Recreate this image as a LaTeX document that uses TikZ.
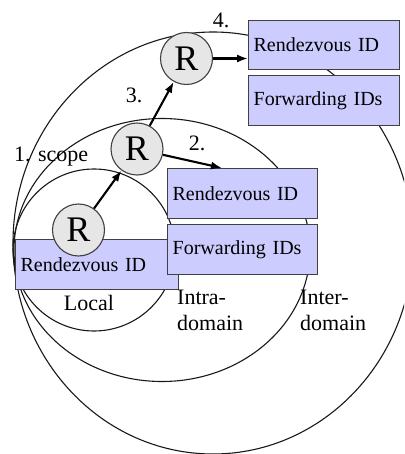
\documentclass[tikz,border=0pt]{standalone}
\usepackage{fontspec}
\setmainfont{Liberation Serif}
\newfontfamily\figserif{Liberation Serif}
\usetikzlibrary{arrows.meta}
\definecolor{boxfill}{RGB}{204,204,255}
\definecolor{rfill}{RGB}{230,230,230}
\definecolor{edgegrey}{RGB}{64,64,64}
\begin{document}
\begin{tikzpicture}[x=1pt,y=-1pt,
  ring/.style={draw=black!90, line width=1.1pt},
  idbox/.style={draw=edgegrey, fill=boxfill, line width=1.3pt, rectangle, anchor=north west,
    inner xsep=5pt, inner ysep=0pt, align=left, font=\figserif\fontsize{20}{22}\selectfont},
  router/.style={circle, draw=edgegrey, fill=rfill, line width=1.1pt, minimum size=52pt,
    inner sep=0pt, font=\figserif\fontsize{36}{36}\selectfont},
  flow/.style={-{Latex[length=11pt,width=8pt]}, line width=2.1pt},
  lbl/.style={font=\figserif\fontsize{22}{26}\selectfont, inner sep=0pt, align=left}
]
\clip (0,0) rectangle (404,454);
\fill[white] (0,0) rectangle (404,454);
% scope rings
\draw[ring] (94,250) circle [radius=81pt];
\draw[ring] (162,250) ellipse [x radius=148pt, y radius=131.5pt];
\draw[ring] (213,243) ellipse [x radius=200pt, y radius=211pt];
% ID boxes
\node[idbox, minimum width=163pt, minimum height=50pt, text width=153pt] (e) at (15,239) {\raisebox{-5pt}{Rendezvous ID}};
\node[idbox, minimum width=150pt, minimum height=50pt, text width=140pt] (c) at (167,168) {Rendezvous ID};
\node[idbox, minimum width=150pt, minimum height=50pt, text width=140pt] (d) at (167,224) {Forwarding IDs};
\node[idbox, minimum width=151pt, minimum height=49pt, text width=141pt] (a) at (248,20) {Rendezvous ID};
\node[idbox, minimum width=151pt, minimum height=50pt, text width=141pt] (b) at (248,75) {Forwarding IDs};
% routers
\node[router] (r1) at (78.5,230) {R};
\node[router] (r2) at (137,149) {R};
\node[router] (r3) at (186.5,58.5) {R};
% arrows
\draw[flow] (r1) -- (r2);
\draw[flow] (r2) -- (r3);
\draw[flow] (r2) -- ([xshift=55pt]c.north west);
\draw[flow] (r3.east) -- (r3.east -| a.west);
% labels
\node[lbl] (l4) at (221,20) {4.};
\node[lbl] (l3) at (134,95) {3.};
\node[lbl] (l2) at (197,143) {2.};
\node[lbl, anchor=west] (l1) at (14,157) {1. scope};
\node[lbl] (loc) at (89,303) {Local};
\node[lbl, anchor=west] (intra) at (177,310) {Intra-\\domain};
\node[lbl, anchor=west] (inter) at (300,310) {Inter-\\domain};
\end{tikzpicture}
\end{document}
